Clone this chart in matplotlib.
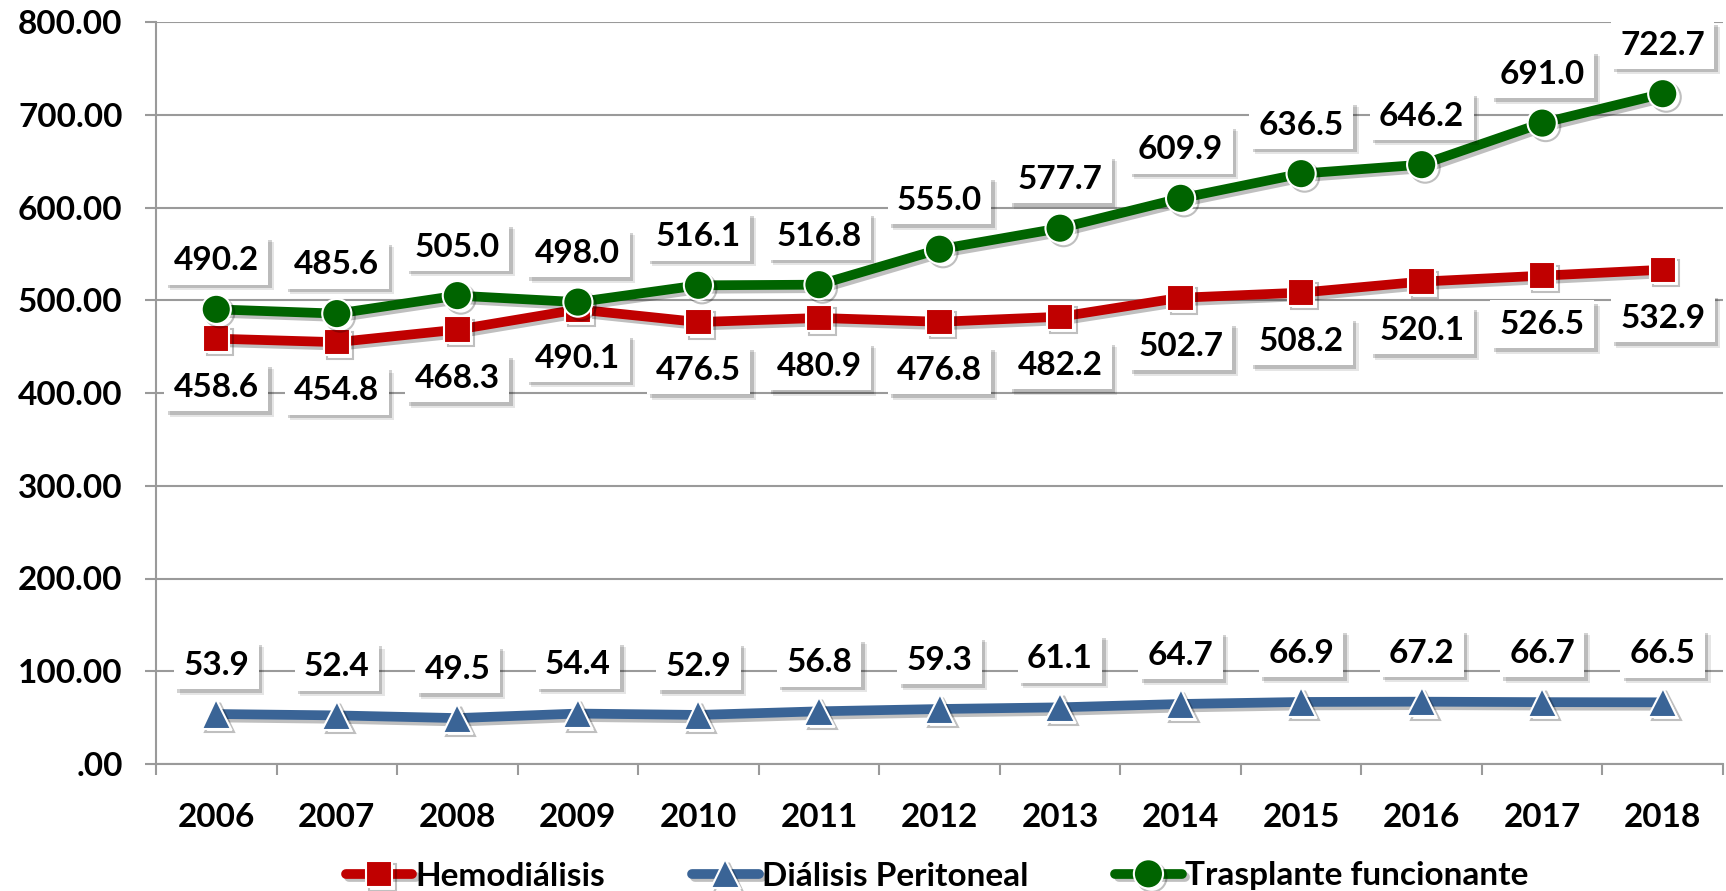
"""
Prevalencia por modalidad de tratamiento renal sustitutivo, 2006-2018.
"""
import matplotlib
matplotlib.use("Agg")
import matplotlib.pyplot as plt
import matplotlib.patheffects as pe
import numpy as np
from matplotlib.ticker import FuncFormatter

YEARS = [2006, 2007, 2008, 2009, 2010, 2011, 2012, 2013, 2014, 2015, 2016, 2017, 2018]

HEMO = [458.6, 454.8, 468.3, 490.1, 476.5, 480.9, 476.8, 482.2, 502.7, 508.2, 520.1, 526.5, 532.9]
DIAL_PERIT = [53.9, 52.4, 49.5, 54.4, 52.9, 56.8, 59.3, 61.1, 64.7, 66.9, 67.2, 66.7, 66.5]
TRASPLANTE = [490.2, 485.6, 505.0, 498.0, 516.1, 516.8, 555.0, 577.7, 609.9, 636.5, 646.2, 691.0, 722.7]

SERIES = [
    # label, values, color, marker, markersize, label offset (pt)
    ("Hemodiálisis", HEMO, "#C00000", "s", 19, -35),
    ("Diálisis Peritoneal", DIAL_PERIT, "#3A6496", "^", 21, 35),
    ("Trasplante funcionante", TRASPLANTE, "#006400", "o", 21, 35),
]

FONT = ["Lato", "DejaVu Sans"]
plt.rcParams["font.family"] = FONT
plt.rcParams["font.weight"] = "bold"

GRID = "#9A9A9A"
FS = 24

fig = plt.figure(figsize=(17.26, 8.91), dpi=100)
ax = fig.add_axes([156 / 1726, 1 - 764 / 891, 1567 / 1726, (764 - 22) / 891])

x = np.arange(len(YEARS))
line_fx = [pe.SimpleLineShadow(offset=(2.5, -2.5), shadow_color="k", alpha=0.25), pe.Normal()]

handles = []
for name, vals, color, marker, ms, off in SERIES:
    (ln,) = ax.plot(
        x, vals, color=color, lw=7, marker=marker, ms=ms,
        markeredgecolor="white", markeredgewidth=1.5, label=name, zorder=3,
        solid_capstyle="round",
    )
    ln.set_path_effects(line_fx)
    handles.append(ln)

    for xi, v in zip(x, vals):
        t = ax.annotate(
            f"{v:.1f}", xy=(xi, v), xytext=(0, off), textcoords="offset points",
            ha="center", va="center", fontsize=FS, fontweight="bold", color="black",
            bbox=dict(boxstyle="square,pad=0.28", fc="white", ec="none"), zorder=5,
        )
        # soft drop shadow under each label box
        t.get_bbox_patch().set_path_effects([
            pe.SimplePatchShadow(offset=(4, -4), shadow_rgbFace="k", alpha=0.10),
            pe.SimplePatchShadow(offset=(2.5, -2.5), shadow_rgbFace="k", alpha=0.18),
            pe.Normal(),
        ])

ax.set_xlim(-0.5, len(YEARS) - 0.5)
ax.set_ylim(0, 800)
ax.set_yticks(np.arange(0, 801, 100))
ax.yaxis.set_major_formatter(FuncFormatter(lambda v, _: ".00" if v == 0 else f"{v:.2f}"))
ax.grid(axis="y", color=GRID, lw=1.5)
ax.set_axisbelow(True)

ax.set_xticks(x)
ax.set_xticklabels([str(y) for y in YEARS])
ax.set_xticks(np.arange(-0.5, len(YEARS)), minor=True)
ax.tick_params(axis="x", which="major", length=0, pad=28, labelsize=FS)
ax.tick_params(axis="x", which="minor", length=8, width=1.5, color=GRID, direction="out")
ax.tick_params(axis="y", length=8, width=1.5, color=GRID, pad=16, labelsize=FS)

for side in ("top", "right"):
    ax.spines[side].set_visible(False)
for side in ("left", "bottom"):
    ax.spines[side].set_color(GRID)
    ax.spines[side].set_linewidth(1.5)

fig.legend(
    handles=handles, loc="center", bbox_to_anchor=(937 / 1726, 1 - 876 / 891),
    ncol=3, frameon=False, fontsize=FS, handlelength=2.0, handletextpad=0.1,
    columnspacing=2.6,
)

fig.savefig("out.png", dpi=100)
